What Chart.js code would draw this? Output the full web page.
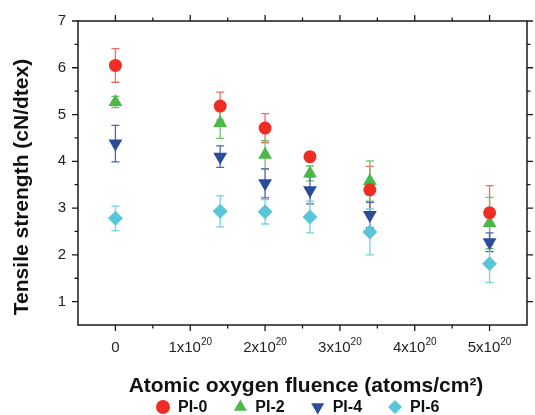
<!DOCTYPE html>
<html><head><meta charset="utf-8">
<script src="https://cdn.jsdelivr.net/npm/chart.js@4/dist/chart.umd.min.js"></script>
<style>html,body{margin:0;padding:0;background:#fff}#wrap{width:535px;height:415px}</style>
</head><body><div id="wrap"><canvas id="c" width="535" height="415"></canvas></div>
<script>
// Atomic oxygen fluence, in units of 1x10^20 atoms/cm2
const fluence = [0, 1.4, 2, 2.6, 3.4, 5];
const seriesNames = ['PI-0', 'PI-2', 'PI-4', 'PI-6'];
const pi0 = [6.05, 5.18, 4.71, 4.10, 3.39, 2.90];
const pi0Err = [0.36, 0.30, 0.31, 0.07, 0.50, 0.58];
const pi2 = [5.27, 4.82, 4.14, 3.74, 3.58, 2.68];
const pi2Err = [0.12, 0.33, 0.30, 0.16, 0.43, 0.55];
const pi4 = [4.38, 4.10, 3.53, 3.38, 2.85, 2.27];
const pi4Err = [0.39, 0.23, 0.31, 0.29, 0.27, 0.20];
const pi6 = [2.78, 2.93, 2.92, 2.81, 2.49, 1.81];
const pi6Err = [0.26, 0.33, 0.26, 0.34, 0.49, 0.40];
const xTickValues = [0, 1, 2, 3, 4, 5];
const xTickLabels = ['0', '1x10^20', '2x10^20', '3x10^20', '4x10^20', '5x10^20'];
const yTickValues = [1, 2, 3, 4, 5, 6, 7];
const xTitle = 'Atomic oxygen fluence (atoms/cm\u00B2)';
const yTitle = 'Tensile strength (cN/dtex)';

const colors = ['#ee2e24', '#4cb848', '#2b4c9b', '#58c6d8'];
const errColors = ['#f06a66', '#6cc466', '#4a66b2', '#74d2e2'];
const styles = ['circle', 'triangle', 'triangle', 'rectRot'];
const rotations = [0, 0, 180, 0];
const radii = [6.5, 8, 8, 7.5];
const values = [pi0, pi2, pi4, pi6];
const errs = [pi0Err, pi2Err, pi4Err, pi6Err];

const FONT = "'Liberation Sans', Arial, sans-serif";

const datasets = seriesNames.map((name, i) => ({
  label: name,
  data: fluence.map((x, j) => ({x: x, y: values[i][j]})),
  errors: errs[i],
  errColor: errColors[i],
  backgroundColor: colors[i],
  borderColor: colors[i],
  borderWidth: 0,
  pointStyle: styles[i],
  pointRotation: rotations[i],
  pointRadius: radii[i],
  showLine: false
}));

const framePlugin = {
  id: 'frame',
  beforeDatasetsDraw(chart) {
    const ctx = chart.ctx;
    const ys = chart.scales.y;
    chart.data.datasets.forEach((ds, i) => {
      const meta = chart.getDatasetMeta(i);
      ctx.save();
      ctx.strokeStyle = ds.errColor;
      ctx.lineWidth = 1.3;
      meta.data.forEach((pt, j) => {
        const v = ds.data[j].y, e = ds.errors[j];
        const yt = ys.getPixelForValue(v + e), yb = ys.getPixelForValue(v - e);
        const x = pt.x;
        ctx.beginPath();
        ctx.moveTo(x, yt); ctx.lineTo(x, yb);
        ctx.moveTo(x - 4, yt); ctx.lineTo(x + 4, yt);
        ctx.moveTo(x - 4, yb); ctx.lineTo(x + 4, yb);
        ctx.stroke();
      });
      ctx.restore();
    });
  },
  afterDraw(chart) {
    const ctx = chart.ctx;
    const a = chart.chartArea;
    const xs = chart.scales.x, ys = chart.scales.y;
    ctx.save();
    ctx.strokeStyle = '#1a1a1a';
    ctx.lineWidth = 1.5;
    ctx.strokeRect(a.left, a.top, a.right - a.left, a.bottom - a.top);
    ctx.lineWidth = 1.3;
    ctx.beginPath();
    for (let v = xs.min; v <= xs.max + 1e-9; v += 0.5) {
      const major = Math.abs(v - Math.round(v)) < 1e-6;
      const L = major ? 6 : 3.5;
      const px = xs.getPixelForValue(v);
      if (px <= a.left + 1 || px >= a.right - 1) continue;
      ctx.moveTo(px, a.bottom); ctx.lineTo(px, a.bottom + L);
      ctx.moveTo(px, a.top); ctx.lineTo(px, a.top - L);
    }
    for (let v = ys.min; v <= ys.max + 1e-9; v += 0.5) {
      const major = Math.abs(v - Math.round(v)) < 1e-6;
      const L = major ? 6 : 3.5;
      const py = ys.getPixelForValue(v);
      if (py >= a.bottom - 1) continue;
      ctx.moveTo(a.left, py); ctx.lineTo(a.left - L, py);
      ctx.moveTo(a.right, py); ctx.lineTo(a.right + L, py);
    }
    ctx.stroke();

    ctx.fillStyle = '#222';
    ctx.textBaseline = 'alphabetic';
    xTickValues.forEach((v, i) => {
      const parts = xTickLabels[i].split('^');
      const px = xs.getPixelForValue(v);
      ctx.font = '15px ' + FONT;
      const w1 = ctx.measureText(parts[0]).width;
      let w2 = 0;
      if (parts[1]) { ctx.font = '10px ' + FONT; w2 = ctx.measureText(parts[1]).width; }
      const x0 = px - (w1 + w2) / 2;
      ctx.font = '15px ' + FONT;
      ctx.textAlign = 'left';
      ctx.fillText(parts[0], x0, a.bottom + 27);
      if (parts[1]) {
        ctx.font = '10px ' + FONT;
        ctx.fillText(parts[1], x0 + w1, a.bottom + 20);
      }
    });

    ctx.fillStyle = '#111';
    ctx.font = 'bold 21px ' + FONT;
    ctx.textAlign = 'center';
    ctx.textBaseline = 'middle';
    ctx.fillText(xTitle, 306, 386);
    ctx.save();
    ctx.translate(22, 187);
    ctx.rotate(-Math.PI / 2);
    ctx.fillText(yTitle, 0, 0);
    ctx.restore();

    ctx.font = 'bold 16px ' + FONT;
    ctx.textAlign = 'left';
    let lx = 163;
    const ly = 407;
    chart.data.datasets.forEach((ds) => {
      ctx.fillStyle = ds.backgroundColor;
      ctx.strokeStyle = ds.borderColor;
      const r = ds.pointStyle === 'triangle' ? 7.5 : 7;
      Chart.helpers.drawPoint(ctx, {pointStyle: ds.pointStyle, radius: r, rotation: ds.pointRotation, borderWidth: 0}, lx, ly);
      ctx.fillStyle = '#111';
      ctx.fillText(ds.label, lx + 15, ly + 1);
      lx += 15 + ctx.measureText(ds.label).width + 33;
    });
    ctx.restore();
  }
};

new Chart(document.getElementById('c'), {
  type: 'scatter',
  data: {datasets},
  options: {
    responsive: false,
    devicePixelRatio: 1,
    animation: false,
    layout: {padding: {top: 18, right: 5, bottom: 0, left: 0}},
    plugins: {legend: {display: false}, tooltip: {enabled: false}},
    scales: {
      x: {
        type: 'linear', position: 'bottom', min: -0.5, max: 5.5,
        afterBuildTicks: s => { s.ticks = xTickValues.map(v => ({value: v})); },
        afterFit: s => { s.height = 90; },
        ticks: {display: false},
        grid: {display: false, drawTicks: false},
        border: {display: false},
        title: {display: false}
      },
      y: {
        type: 'linear', min: 0.5, max: 7,
        afterBuildTicks: s => { s.ticks = yTickValues.map(v => ({value: v})); },
        afterFit: s => { s.width = 78; },
        ticks: {color: '#222', padding: 12, font: {size: 15, family: FONT}},
        grid: {display: false, drawTicks: false},
        border: {display: false},
        title: {display: false}
      }
    }
  },
  plugins: [framePlugin]
});
</script>
</body></html>
